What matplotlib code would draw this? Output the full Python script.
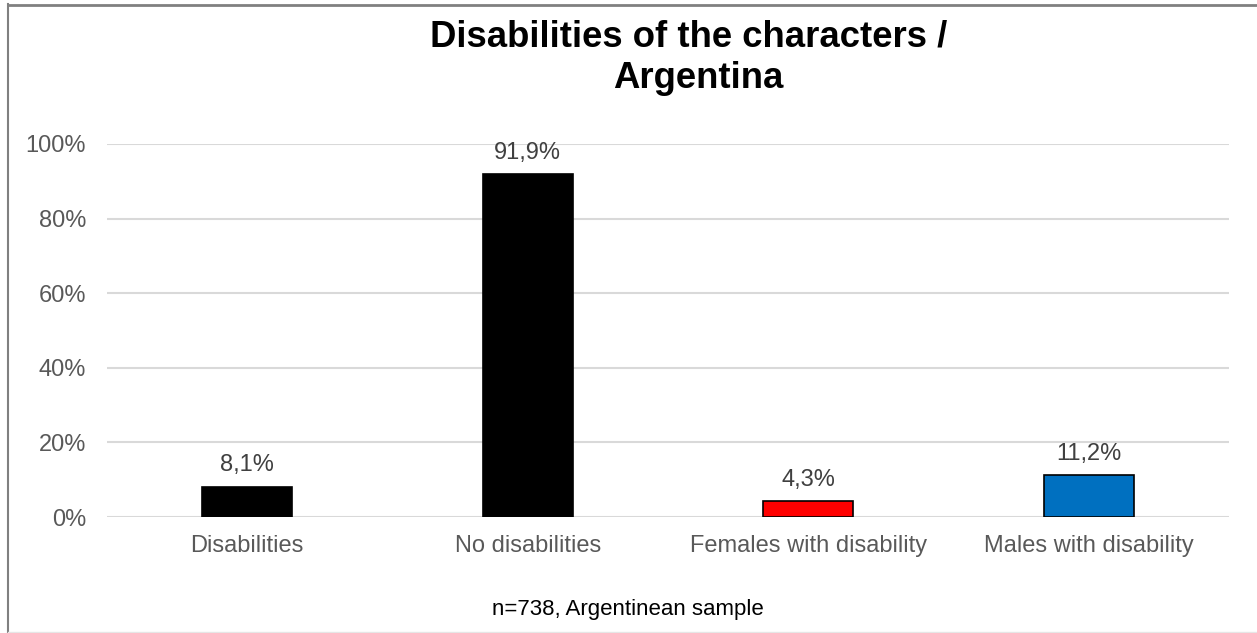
import matplotlib
matplotlib.use("Agg")
import matplotlib.pyplot as plt
from matplotlib.lines import Line2D

categories = ["Disabilities", "No disabilities", "Females with disability", "Males with disability"]
values = [8.1, 91.9, 4.3, 11.2]
labels = ["8,1%", "91,9%", "4,3%", "11,2%"]
colors = ["#000000", "#000000", "#FF0000", "#0070C0"]
yticks = [0, 20, 40, 60, 80, 100]
ytick_labels = ["0%", "20%", "40%", "60%", "80%", "100%"]

plt.rcParams["font.family"] = ["Liberation Sans", "DejaVu Sans"]

W, H = 1257, 633
fig = plt.figure(figsize=(W / 100, H / 100), dpi=100)
ax = fig.add_axes([107 / W, 1 - 517 / H, (1229 - 107) / W, (517 - 144) / H])

x = list(range(len(categories)))
ax.bar(x, values, width=0.32, color=colors, edgecolor="#000000", linewidth=1.2, zorder=3)
ax.set_xlim(-0.5, len(categories) - 0.5)
ax.set_ylim(0, 100)
ax.set_yticks(yticks)
ax.set_yticklabels(ytick_labels)
ax.set_xticks(x)
ax.set_xticklabels(categories)
ax.tick_params(axis="both", length=0, labelsize=17, labelcolor="#595959")
ax.tick_params(axis="y", pad=15)
ax.tick_params(axis="x", pad=13)
ax.grid(axis="y", color="#D9D9D9", linewidth=1.5, zorder=0)
for s in ax.spines.values():
    s.set_visible(False)

for xi, v, lab in zip(x, values, labels):
    ax.annotate(lab, (xi, v), xytext=(0, 7.5), textcoords="offset points",
                ha="center", va="bottom", fontsize=17, color="#404040")

fig.text(689 / W, 1 - 37 / H, "Disabilities of the characters /", ha="center", va="center",
         fontsize=26.3, fontweight="bold", color="#000000")
fig.text(698 / W, 1 - 78 / H, "Argentina", ha="center", va="center",
         fontsize=26.3, fontweight="bold", color="#000000")
fig.text(628 / W, 1 - 609 / H, "n=738, Argentinean sample", ha="center", va="center",
         fontsize=16, color="#000000")

# chart frame (left, top, bottom)
fig.add_artist(Line2D([7.5 / W, 7.5 / W], [0, 1 - 4 / H], color="#808080", linewidth=1.5, transform=fig.transFigure))
fig.add_artist(Line2D([7.5 / W, 1], [1 - 4.5 / H, 1 - 4.5 / H], color="#808080", linewidth=2, transform=fig.transFigure))
fig.add_artist(Line2D([7.5 / W, 1], [1 - 631.5 / H, 1 - 631.5 / H], color="#E6E6E6", linewidth=1, transform=fig.transFigure))

fig.savefig("out.png", dpi=100)
